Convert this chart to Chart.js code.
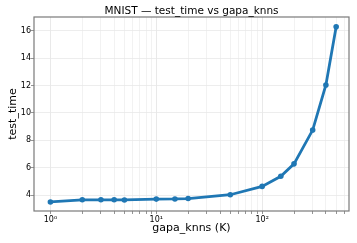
<!DOCTYPE html>
<html>
<head>
<meta charset="utf-8">
<script src="https://cdn.jsdelivr.net/npm/chart.js@4"></script>
<style>
  html, body { margin: 0; padding: 0; background: #fff; }
  #wrap { width: 357px; height: 243px; }
</style>
</head>
<body>
<div id="wrap"><canvas id="myChart" width="357" height="243"></canvas></div>
<script>
const knns = [1, 2, 3, 4, 5, 10, 15, 20, 50, 100, 150, 200, 300, 400, 500];
const testTime = [3.49, 3.65, 3.65, 3.65, 3.64, 3.70, 3.71, 3.74, 4.02, 4.63, 5.37, 6.28, 8.75, 12.05, 16.3];
const yTicks = [4, 6, 8, 10, 12, 14, 16];
const chartTitle = 'MNIST \u2014 test_time vs gapa_knns';
const supers = {'0': '\u2070', '1': '\u00b9', '2': '\u00b2', '3': '\u00b3'};

// frame + title centred over the plot area, like matplotlib
const frame = {
  id: 'frame',
  afterDraw(chart) {
    const a = chart.chartArea, ctx = chart.ctx;
    ctx.save();
    ctx.strokeStyle = '#7a7a7a';
    ctx.lineWidth = 1.2;
    ctx.strokeRect(a.left, a.top, a.right - a.left, a.bottom - a.top);
    ctx.fillStyle = '#000';
    ctx.font = '10.5px "DejaVu Sans"';
    ctx.textAlign = 'center';
    ctx.textBaseline = 'alphabetic';
    ctx.fillText(chartTitle, (a.left + a.right) / 2, a.top - 3);
    ctx.restore();
  }
};

const ctx = document.getElementById('myChart').getContext('2d');
const chart = new Chart(ctx, {
  type: 'line',
  data: {
    datasets: [{
      label: 'test_time',
      data: knns.map((k, i) => ({ x: k, y: testTime[i] })),
      borderColor: '#1f77b4',
      backgroundColor: '#1f77b4',
      borderWidth: 2.8,
      pointRadius: 2.8,
      pointBorderWidth: 0,
      pointHoverRadius: 2.8,
      tension: 0,
    }]
  },
  plugins: [frame],
  options: {
    responsive: false,
    animation: false,
    devicePixelRatio: 1,
    layout: { padding: { left: 0, right: 8, top: 17, bottom: 0 } },
    plugins: {
      legend: { display: false },
      tooltip: { enabled: false },
      title: { display: false }
    },
    scales: {
      x: {
        type: 'logarithmic',
        min: 0.74,
        max: 661,
        afterBuildTicks(axis) {
          const t = [];
          for (let e = 0; e <= 2; e++) {
            for (let m = 1; m <= 9; m++) {
              const v = m * Math.pow(10, e);
              if (v <= 661) t.push({ value: v, major: m === 1 });
            }
          }
          axis.ticks = t;
        },
        afterFit(axis) { axis.height = 32; },
        ticks: {
          autoSkip: false,
          maxRotation: 0,
          color: '#000',
          padding: 1,
          font: { family: 'DejaVu Sans', size: 8 },
          callback(v) {
            const e = Math.log10(v);
            if (Math.abs(e - Math.round(e)) < 1e-9) {
              return '10' + String(Math.round(e)).split('').map(c => supers[c]).join('');
            }
            return '';
          }
        },
        grid: {
          color: (c) => c.tick && c.tick.major ? '#e3e3e3' : '#efefef',
          lineWidth: 0.8,
          tickLength: 3,
          tickColor: '#7a7a7a',
        },
        border: { display: false },
        title: {
          display: true,
          text: 'gapa_knns (K)',
          color: '#000',
          font: { family: 'DejaVu Sans', size: 11 },
          padding: { top: 0, bottom: 8 },
        }
      },
      y: {
        type: 'linear',
        min: 2.83,
        max: 17.02,
        afterBuildTicks(axis) {
          axis.ticks = yTicks.map(v => ({ value: v }));
        },
        afterFit(axis) { axis.width = 34; },
        ticks: {
          color: '#000',
          padding: 0,
          font: { family: 'DejaVu Sans', size: 8 },
        },
        grid: {
          color: '#e8e8e8',
          lineWidth: 0.8,
          tickLength: 3,
          tickColor: '#7a7a7a',
        },
        border: { display: false },
        title: {
          display: true,
          text: 'test_time',
          color: '#000',
          font: { family: 'DejaVu Sans', size: 11 },
          padding: { top: 6.5, bottom: 0 },
        }
      }
    }
  }
});
</script>
</body>
</html>
